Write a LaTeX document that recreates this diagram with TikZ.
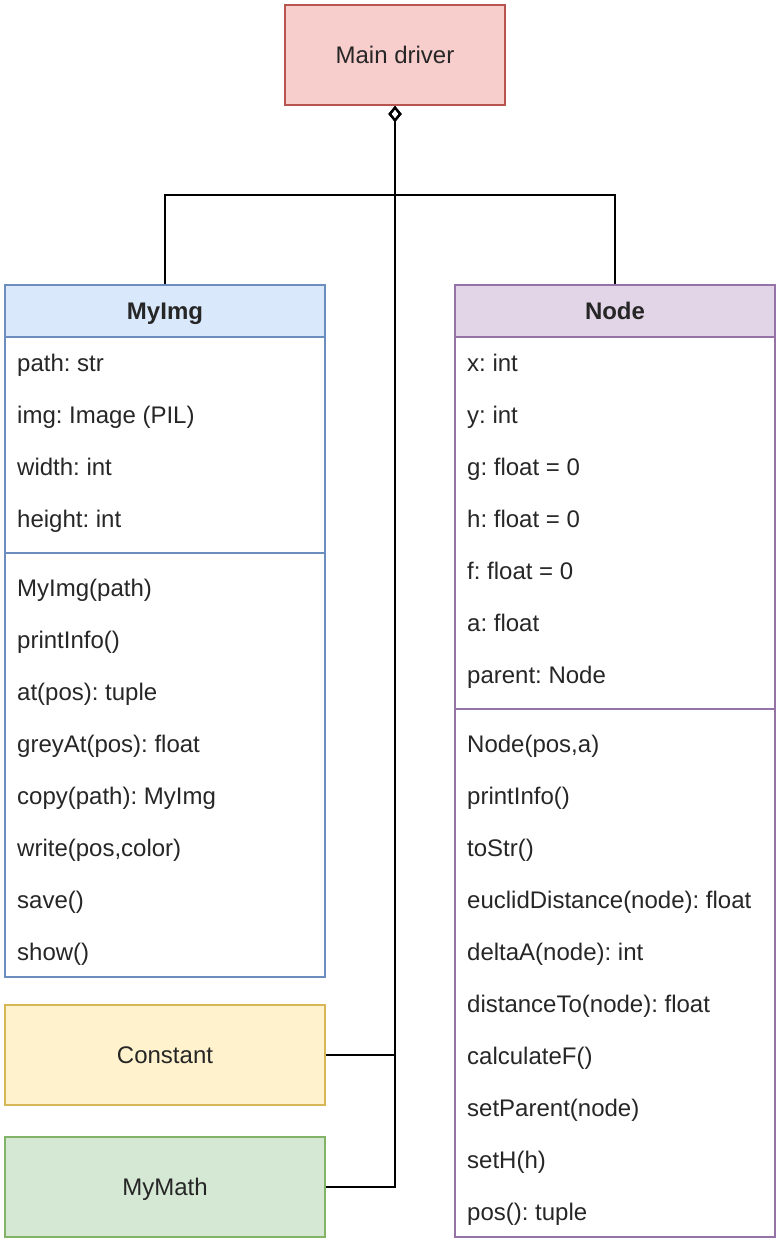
\documentclass[tikz,border=0pt]{standalone}
\usepackage{fontspec}
\setmainfont{Liberation Sans}
\usetikzlibrary{arrows.meta}
\frenchspacing

\definecolor{redfill}{HTML}{F8CECC}
\definecolor{redline}{HTML}{B85450}
\definecolor{bluefill}{HTML}{DAE8FC}
\definecolor{blueline}{HTML}{6C8EBF}
\definecolor{purplefill}{HTML}{E1D5E7}
\definecolor{purpleline}{HTML}{9673A6}
\definecolor{yellowfill}{HTML}{FFF2CC}
\definecolor{yellowline}{HTML}{D6B656}
\definecolor{greenfill}{HTML}{D5E8D4}
\definecolor{greenline}{HTML}{82B366}

\tikzset{
  box/.style={draw, line width=2pt, minimum width=320pt, inner sep=0pt, text=black!85,
    text height=21.7pt, text depth=5.1pt},
  head/.style={box, minimum height=52pt, font=\fontsize{24}{28}\selectfont\bfseries},
  row/.style={anchor=west, inner sep=0pt, text=black!85, text height=21.7pt, text depth=5.1pt},
  conn/.style={line width=2pt, -{Diamond[open, length=16pt, width=13pt, line width=2pt]}}
}

\begin{document}
\begin{tikzpicture}[x=1pt, y=-1pt, font=\fontsize{24}{28}\selectfont]
\useasboundingbox (0,0) rectangle (780,1248);

% main driver
\node[box, fill=redfill, draw=redline, minimum width=220pt, minimum height=100pt] (main) at (395,55) {Main driver};

% MyImg class
\node[head, fill=bluefill, draw=blueline] (myimg) at (165,311) {MyImg};
\node[box, draw=blueline, minimum height=640pt] (myimgbody) at (165,657) {};
\draw[blueline, line width=2pt] (5,553) -- (325,553);
\foreach \t [count=\i] in {path: str, img: Image (PIL), width: int, height: int}
  \node[row] (imga\i) at (17,311+52*\i) {\t};
\foreach \t [count=\i] in {MyImg(path), printInfo(), at(pos): tuple, greyAt(pos): float,
    copy(path): MyImg, {write(pos,color)}, save(), show()}
  \node[row] (imgm\i) at (17,536+52*\i) {\t};

% Node class
\node[head, fill=purplefill, draw=purpleline] (node) at (615,311) {Node};
\node[box, draw=purpleline, minimum height=900pt] (nodebody) at (615,787) {};
\draw[purpleline, line width=2pt] (455,709) -- (775,709);
\foreach \t [count=\i] in {x: int, y: int, g: float = 0, h: float = 0, f: float = 0,
    a: float, parent: Node}
  \node[row] (nodea\i) at (467,311+52*\i) {\t};
\foreach \t [count=\i] in {{Node(pos,a)}, printInfo(), toStr(), euclidDistance(node): float,
    deltaA(node): int, distanceTo(node): float, calculateF(), setParent(node), setH(h), pos(): tuple}
  \node[row] (nodem\i) at (467,692+52*\i) {\t};

% other modules
\node[box, fill=yellowfill, draw=yellowline, minimum height=100pt] (constant) at (165,1055) {Constant};
\node[box, fill=greenfill, draw=greenline, minimum height=100pt] (mymath) at (165,1187) {MyMath};

% connectors
\coordinate (j) at (395,195);
\draw[conn] (myimg.north) |- (j) -- (main.south);
\draw[conn] (node.north) |- (j) -- (main.south);
\draw[conn] (constant.east) -| (main.south);
\draw[conn] (mymath.east) -| (main.south);
\end{tikzpicture}
\end{document}
